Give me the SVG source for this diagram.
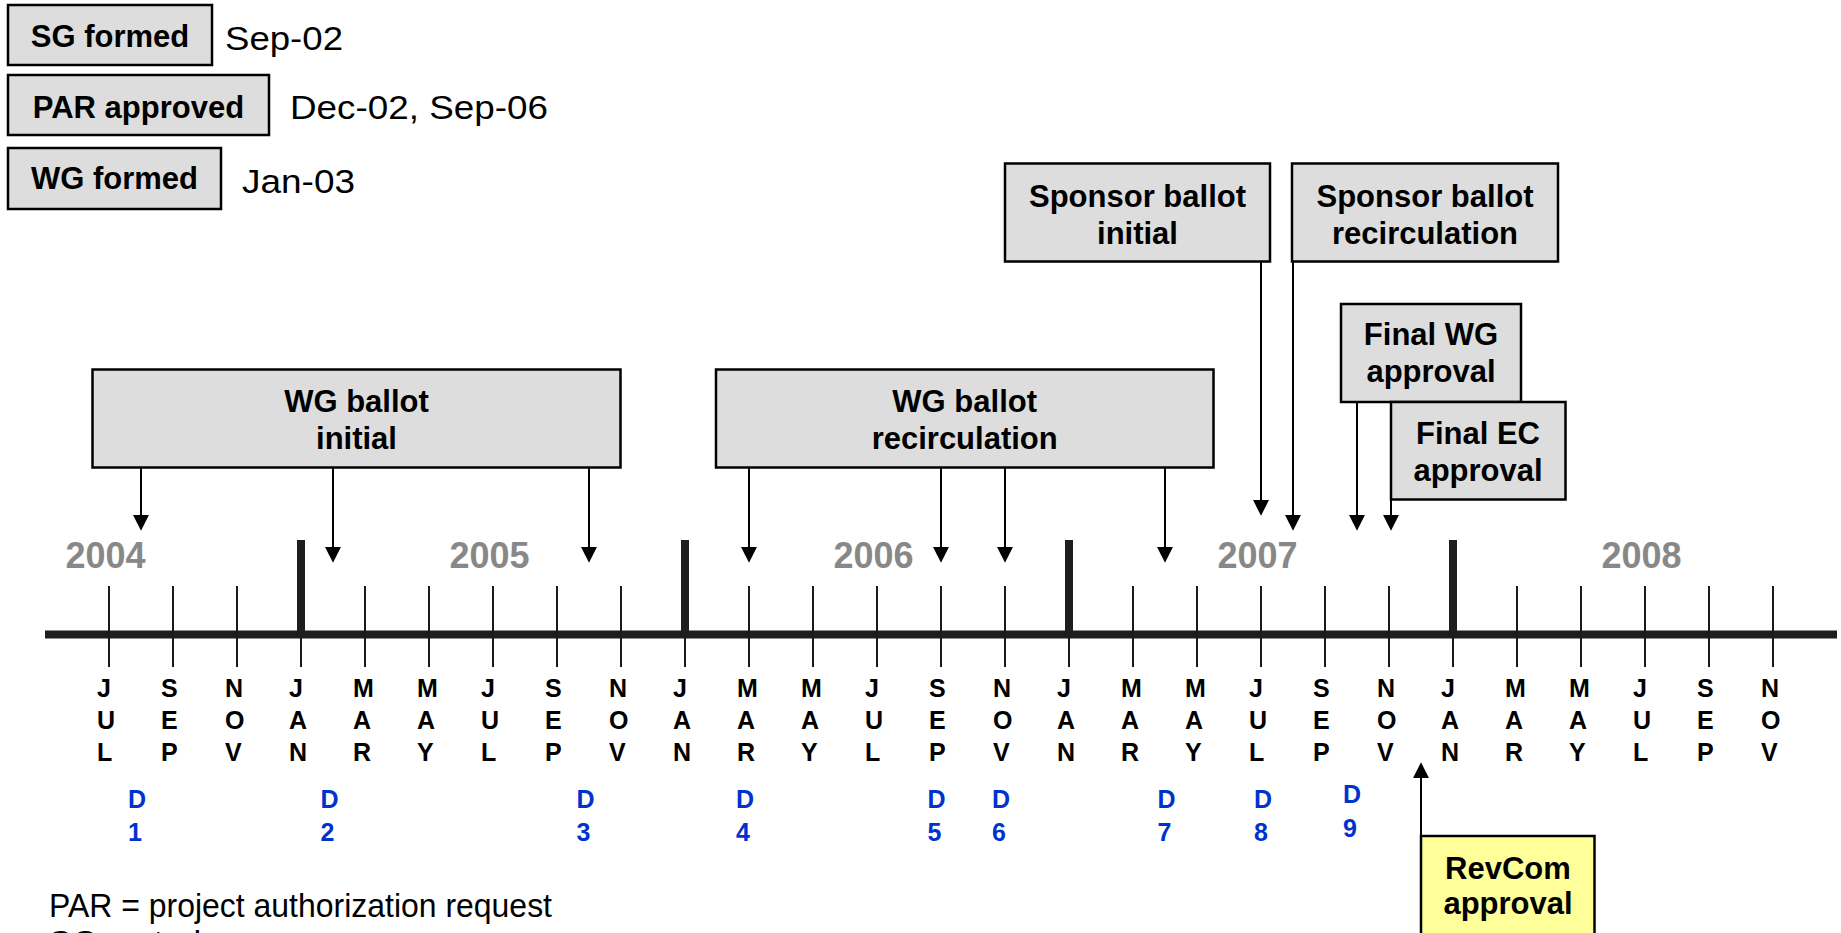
<svg xmlns="http://www.w3.org/2000/svg" width="1841" height="933" viewBox="0 0 1841 933">
  <style>
    text { font-family: "Liberation Sans", Arial, Helvetica, sans-serif; }
    .box { fill: #dddddd; stroke: #000; stroke-width: 2.5; }
    .rev { fill: #ffff99; stroke: #000; stroke-width: 2.5; }
    .lbl { font-size: 31px; font-weight: bold; text-anchor: middle; fill: #000; }
    .date { font-size: 34px; fill: #000; }
    .year { font-size: 36px; font-weight: bold; text-anchor: middle; fill: #888888; }
    .mon { font-size: 25px; font-weight: bold; fill: #000; }
    .draft { font-size: 25px; font-weight: bold; fill: #0033cc; }
    .tick { stroke: #1a1a1a; stroke-width: 2; }
    .jan { stroke: #1e1e1e; stroke-width: 8; }
    .axis { stroke: #1e1e1e; stroke-width: 8; }
    .conn { stroke: #000; stroke-width: 2; fill: none; marker-end: url(#arrow); }
  </style>
  <defs>
    <marker id="arrow" markerUnits="userSpaceOnUse" markerWidth="16" markerHeight="16" viewBox="0 0 15 15" refX="2" refY="7.5" orient="auto">
      <path d="M0,0 L15,7.5 L0,15 Z" fill="#000"/>
    </marker>
  </defs>

  <!-- milestone boxes with dates -->
  <g id="sg-formed">
    <rect class="box" x="8" y="5" width="204" height="60"/>
    <text class="lbl" x="110" y="47">SG formed</text>
    <text class="date" x="225" y="49.5" textLength="118" lengthAdjust="spacingAndGlyphs">Sep-02</text>
  </g>
  <g id="par-approved">
    <rect class="box" x="8" y="75" width="261" height="60"/>
    <text class="lbl" x="138.5" y="118">PAR approved</text>
    <text class="date" x="290" y="118.5" textLength="258" lengthAdjust="spacingAndGlyphs">Dec-02, Sep-06</text>
  </g>
  <g id="wg-formed">
    <rect class="box" x="8" y="148" width="213" height="61"/>
    <text class="lbl" x="114.5" y="188.5">WG formed</text>
    <text class="date" x="242" y="193" textLength="113" lengthAdjust="spacingAndGlyphs">Jan-03</text>
  </g>

  <!-- ballot phase boxes -->
  <g id="wg-ballot-initial">
    <rect class="box" x="92.5" y="369.5" width="528" height="98"/>
    <text class="lbl" x="356.5" y="411.5">WG ballot</text>
    <text class="lbl" x="356.5" y="449">initial</text>
  </g>
  <g id="wg-ballot-recirculation">
    <rect class="box" x="716" y="369.5" width="497.5" height="98"/>
    <text class="lbl" x="964.7" y="411.5">WG ballot</text>
    <text class="lbl" x="964.7" y="449">recirculation</text>
  </g>
  <g id="sponsor-ballot-initial">
    <rect class="box" x="1005" y="163.5" width="265" height="98"/>
    <text class="lbl" x="1137.5" y="206.5">Sponsor ballot</text>
    <text class="lbl" x="1137.5" y="244">initial</text>
  </g>
  <g id="sponsor-ballot-recirculation">
    <rect class="box" x="1292" y="163.5" width="266" height="98"/>
    <text class="lbl" x="1425" y="206.5">Sponsor ballot</text>
    <text class="lbl" x="1425" y="244">recirculation</text>
  </g>
  <g id="final-wg-approval">
    <rect class="box" x="1341" y="304" width="180" height="98"/>
    <text class="lbl" x="1431" y="345">Final WG</text>
    <text class="lbl" x="1431" y="382">approval</text>
  </g>
  <g id="final-ec-approval">
    <rect class="box" x="1391" y="402" width="174.5" height="97.5"/>
    <text class="lbl" x="1478" y="443.5">Final EC</text>
    <text class="lbl" x="1478" y="480.5">approval</text>
  </g>
  <g id="revcom-approval">
    <rect class="rev" x="1421" y="836" width="173.5" height="120"/>
    <text class="lbl" x="1508" y="878.5">RevCom</text>
    <text class="lbl" x="1508" y="914">approval</text>
  </g>

  <!-- timeline axis, ticks and labels -->
  <g id="timeline">
    <line class="axis" x1="45" y1="634.5" x2="1837" y2="634.5"/>
    <g id="month-ticks">
      <line class="tick" x1="109" y1="586" x2="109" y2="667"/>
      <line class="tick" x1="173" y1="586" x2="173" y2="667"/>
      <line class="tick" x1="237" y1="586" x2="237" y2="667"/>
      <line class="tick" x1="301" y1="586" x2="301" y2="667"/>
      <line class="tick" x1="365" y1="586" x2="365" y2="667"/>
      <line class="tick" x1="429" y1="586" x2="429" y2="667"/>
      <line class="tick" x1="493" y1="586" x2="493" y2="667"/>
      <line class="tick" x1="557" y1="586" x2="557" y2="667"/>
      <line class="tick" x1="621" y1="586" x2="621" y2="667"/>
      <line class="tick" x1="685" y1="586" x2="685" y2="667"/>
      <line class="tick" x1="749" y1="586" x2="749" y2="667"/>
      <line class="tick" x1="813" y1="586" x2="813" y2="667"/>
      <line class="tick" x1="877" y1="586" x2="877" y2="667"/>
      <line class="tick" x1="941" y1="586" x2="941" y2="667"/>
      <line class="tick" x1="1005" y1="586" x2="1005" y2="667"/>
      <line class="tick" x1="1069" y1="586" x2="1069" y2="667"/>
      <line class="tick" x1="1133" y1="586" x2="1133" y2="667"/>
      <line class="tick" x1="1197" y1="586" x2="1197" y2="667"/>
      <line class="tick" x1="1261" y1="586" x2="1261" y2="667"/>
      <line class="tick" x1="1325" y1="586" x2="1325" y2="667"/>
      <line class="tick" x1="1389" y1="586" x2="1389" y2="667"/>
      <line class="tick" x1="1453" y1="586" x2="1453" y2="667"/>
      <line class="tick" x1="1517" y1="586" x2="1517" y2="667"/>
      <line class="tick" x1="1581" y1="586" x2="1581" y2="667"/>
      <line class="tick" x1="1645" y1="586" x2="1645" y2="667"/>
      <line class="tick" x1="1709" y1="586" x2="1709" y2="667"/>
      <line class="tick" x1="1773" y1="586" x2="1773" y2="667"/>
    </g>
    <g id="year-ticks">
      <line class="jan" x1="301" y1="540" x2="301" y2="636"/>
      <line class="jan" x1="685" y1="540" x2="685" y2="636"/>
      <line class="jan" x1="1069" y1="540" x2="1069" y2="636"/>
      <line class="jan" x1="1453" y1="540" x2="1453" y2="636"/>
    </g>
    <g id="years">
      <text class="year" x="105.5" y="568">2004</text>
      <text class="year" x="489.5" y="568">2005</text>
      <text class="year" x="873.5" y="568">2006</text>
      <text class="year" x="1257.5" y="568">2007</text>
      <text class="year" x="1641.5" y="568">2008</text>
    </g>
    <g id="months">
      <text class="mon"><tspan x="97" y="697">J</tspan><tspan x="97" y="729">U</tspan><tspan x="97" y="761">L</tspan></text>
      <text class="mon"><tspan x="161" y="697">S</tspan><tspan x="161" y="729">E</tspan><tspan x="161" y="761">P</tspan></text>
      <text class="mon"><tspan x="225" y="697">N</tspan><tspan x="225" y="729">O</tspan><tspan x="225" y="761">V</tspan></text>
      <text class="mon"><tspan x="289" y="697">J</tspan><tspan x="289" y="729">A</tspan><tspan x="289" y="761">N</tspan></text>
      <text class="mon"><tspan x="353" y="697">M</tspan><tspan x="353" y="729">A</tspan><tspan x="353" y="761">R</tspan></text>
      <text class="mon"><tspan x="417" y="697">M</tspan><tspan x="417" y="729">A</tspan><tspan x="417" y="761">Y</tspan></text>
      <text class="mon"><tspan x="481" y="697">J</tspan><tspan x="481" y="729">U</tspan><tspan x="481" y="761">L</tspan></text>
      <text class="mon"><tspan x="545" y="697">S</tspan><tspan x="545" y="729">E</tspan><tspan x="545" y="761">P</tspan></text>
      <text class="mon"><tspan x="609" y="697">N</tspan><tspan x="609" y="729">O</tspan><tspan x="609" y="761">V</tspan></text>
      <text class="mon"><tspan x="673" y="697">J</tspan><tspan x="673" y="729">A</tspan><tspan x="673" y="761">N</tspan></text>
      <text class="mon"><tspan x="737" y="697">M</tspan><tspan x="737" y="729">A</tspan><tspan x="737" y="761">R</tspan></text>
      <text class="mon"><tspan x="801" y="697">M</tspan><tspan x="801" y="729">A</tspan><tspan x="801" y="761">Y</tspan></text>
      <text class="mon"><tspan x="865" y="697">J</tspan><tspan x="865" y="729">U</tspan><tspan x="865" y="761">L</tspan></text>
      <text class="mon"><tspan x="929" y="697">S</tspan><tspan x="929" y="729">E</tspan><tspan x="929" y="761">P</tspan></text>
      <text class="mon"><tspan x="993" y="697">N</tspan><tspan x="993" y="729">O</tspan><tspan x="993" y="761">V</tspan></text>
      <text class="mon"><tspan x="1057" y="697">J</tspan><tspan x="1057" y="729">A</tspan><tspan x="1057" y="761">N</tspan></text>
      <text class="mon"><tspan x="1121" y="697">M</tspan><tspan x="1121" y="729">A</tspan><tspan x="1121" y="761">R</tspan></text>
      <text class="mon"><tspan x="1185" y="697">M</tspan><tspan x="1185" y="729">A</tspan><tspan x="1185" y="761">Y</tspan></text>
      <text class="mon"><tspan x="1249" y="697">J</tspan><tspan x="1249" y="729">U</tspan><tspan x="1249" y="761">L</tspan></text>
      <text class="mon"><tspan x="1313" y="697">S</tspan><tspan x="1313" y="729">E</tspan><tspan x="1313" y="761">P</tspan></text>
      <text class="mon"><tspan x="1377" y="697">N</tspan><tspan x="1377" y="729">O</tspan><tspan x="1377" y="761">V</tspan></text>
      <text class="mon"><tspan x="1441" y="697">J</tspan><tspan x="1441" y="729">A</tspan><tspan x="1441" y="761">N</tspan></text>
      <text class="mon"><tspan x="1505" y="697">M</tspan><tspan x="1505" y="729">A</tspan><tspan x="1505" y="761">R</tspan></text>
      <text class="mon"><tspan x="1569" y="697">M</tspan><tspan x="1569" y="729">A</tspan><tspan x="1569" y="761">Y</tspan></text>
      <text class="mon"><tspan x="1633" y="697">J</tspan><tspan x="1633" y="729">U</tspan><tspan x="1633" y="761">L</tspan></text>
      <text class="mon"><tspan x="1697" y="697">S</tspan><tspan x="1697" y="729">E</tspan><tspan x="1697" y="761">P</tspan></text>
      <text class="mon"><tspan x="1761" y="697">N</tspan><tspan x="1761" y="729">O</tspan><tspan x="1761" y="761">V</tspan></text>
    </g>
    <g id="drafts">
      <text class="draft"><tspan x="128" y="808">D</tspan><tspan x="128" y="840.5">1</tspan></text>
      <text class="draft"><tspan x="320.5" y="808">D</tspan><tspan x="320.5" y="840.5">2</tspan></text>
      <text class="draft"><tspan x="576.5" y="808">D</tspan><tspan x="576.5" y="840.5">3</tspan></text>
      <text class="draft"><tspan x="736" y="808">D</tspan><tspan x="736" y="840.5">4</tspan></text>
      <text class="draft"><tspan x="927.5" y="808">D</tspan><tspan x="927.5" y="840.5">5</tspan></text>
      <text class="draft"><tspan x="992" y="808">D</tspan><tspan x="992" y="840.5">6</tspan></text>
      <text class="draft"><tspan x="1157.5" y="808">D</tspan><tspan x="1157.5" y="840.5">7</tspan></text>
      <text class="draft"><tspan x="1254" y="808">D</tspan><tspan x="1254" y="840.5">8</tspan></text>
      <text class="draft"><tspan x="1343" y="803">D</tspan><tspan x="1343" y="836.5">9</tspan></text>
    </g>
  </g>

  <!-- arrows from phases to dates on the timeline -->
  <g id="connectors">
    <path class="conn" d="M141,468 V517"/>
    <path class="conn" d="M333,468 V549"/>
    <path class="conn" d="M589,468 V549"/>
    <path class="conn" d="M749,468 V549"/>
    <path class="conn" d="M941,468 V549"/>
    <path class="conn" d="M1005,468 V549"/>
    <path class="conn" d="M1165,468 V549"/>
    <path class="conn" d="M1261,262 V502"/>
    <path class="conn" d="M1293,262 V517"/>
    <path class="conn" d="M1357,402 V517"/>
    <path class="conn" d="M1391,500 V517"/>
    <path class="conn" d="M1421,836 V776"/>
  </g>

  <!-- abbreviations -->
  <g id="legend">
    <text class="date" x="49" y="917" textLength="503" lengthAdjust="spacingAndGlyphs">PAR = project authorization request</text>
    <text class="date" x="49" y="954">SG = study group</text>
  </g>
</svg>
